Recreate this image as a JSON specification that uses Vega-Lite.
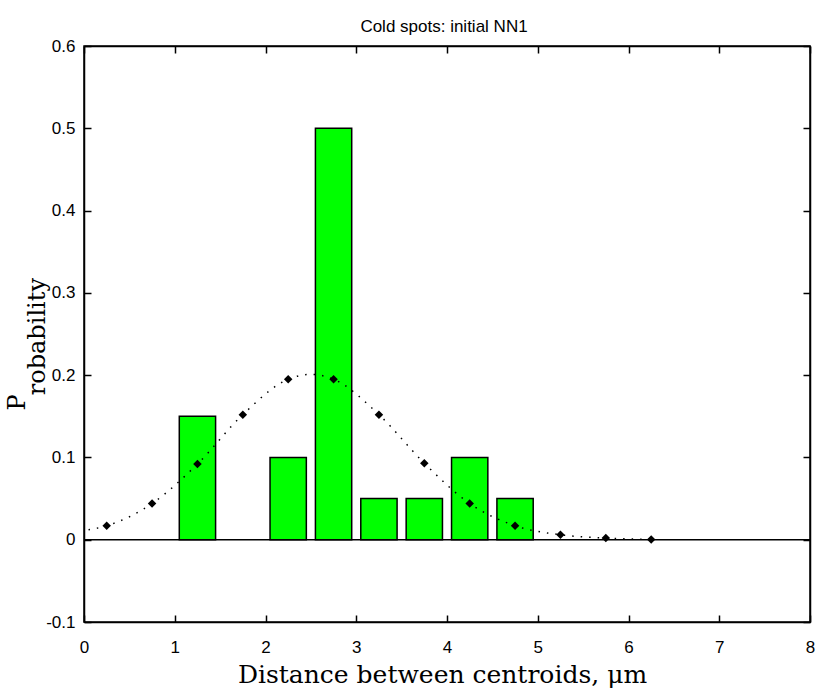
{
  "$schema": "https://vega.github.io/schema/vega-lite/v6.json",
  "width": 726,
  "height": 576,
  "autosize": {"type": "none"},
  "padding": {"left": 84, "top": 46, "right": 6, "bottom": 68},
  "background": "white",
  "title": {"text": "Cold spots: initial NN1", "font": "Liberation Sans", "fontSize": 17, "fontWeight": "normal", "color": "black", "offset": 1, "anchor": "middle", "dx": -3},
  "datasets": {
    "bars": [
      {"lo": 1.05, "hi": 1.45, "p": 0.15},
      {"lo": 2.05, "hi": 2.45, "p": 0.1},
      {"lo": 2.55, "hi": 2.95, "p": 0.5},
      {"lo": 3.05, "hi": 3.45, "p": 0.05},
      {"lo": 3.55, "hi": 3.95, "p": 0.05},
      {"lo": 4.05, "hi": 4.45, "p": 0.1},
      {"lo": 4.55, "hi": 4.95, "p": 0.05}
    ],
    "fit": [
      {"d": 0.05, "p": 0.012, "m": 0},
      {"d": 0.25, "p": 0.017, "m": 1},
      {"d": 0.75, "p": 0.044, "m": 1},
      {"d": 1.25, "p": 0.092, "m": 1},
      {"d": 1.75, "p": 0.152, "m": 1},
      {"d": 2.25, "p": 0.195, "m": 1},
      {"d": 2.5, "p": 0.201, "m": 0},
      {"d": 2.75, "p": 0.195, "m": 1},
      {"d": 3.25, "p": 0.152, "m": 1},
      {"d": 3.75, "p": 0.093, "m": 1},
      {"d": 4.25, "p": 0.044, "m": 1},
      {"d": 4.75, "p": 0.017, "m": 1},
      {"d": 5.25, "p": 0.006, "m": 1},
      {"d": 5.75, "p": 0.002, "m": 1},
      {"d": 6.25, "p": 0.0004, "m": 1}
    ],
    "zero": [{"p": 0}]
  },
  "layer": [
    {
      "data": {"name": "bars"},
      "mark": {"type": "bar", "fill": "#00FF00", "stroke": "black", "strokeWidth": 1.5},
      "encoding": {
        "x": {"field": "lo", "type": "quantitative",
              "scale": {"domain": [0, 8], "nice": false, "zero": false},
              "axis": {"orient": "bottom", "values": [0,1,2,3,4,5,6,7,8], "format": "d", "labelPadding": 24,
                       "title": "Distance between centroids, μm", "titleFont": "DejaVu Serif", "titleFontSize": 25, "titleFontWeight": "normal", "titleColor": "black", "titleBaseline": "alphabetic", "titleY": 60, "titleX": 358}},
        "x2": {"field": "hi"},
        "y": {"field": "p", "type": "quantitative",
              "scale": {"domain": [-0.1, 0.6], "nice": false, "zero": false},
              "axis": {"orient": "left", "values": [-0.1,0,0.1,0.2,0.3,0.4,0.5,0.6], "labelPadding": 16,
                       "labelExpr": "datum.value == 0 ? '0' : (datum.value < 0 ? '-' + format(-datum.value, '.1f') : format(datum.value, '.1f'))",
                       "title": ["P", "\u200b\u00a0\u00a0robability"], "titleFont": "DejaVu Serif", "titleFontSize": 24, "titleFontWeight": "normal", "titleColor": "black",
                       "titleAngle": -90, "titleAlign": "left", "titleBaseline": "alphabetic", "titleLineHeight": 20, "titleX": -60, "titleY": 364}},
        "y2": {"datum": 0}
      }
    },
    {
      "data": {"name": "zero"},
      "mark": {"type": "rule", "color": "black", "strokeWidth": 1.5},
      "encoding": {"y": {"field": "p", "type": "quantitative", "axis": null}}
    },
    {
      "data": {"name": "fit"},
      "mark": {"type": "line", "color": "black", "strokeWidth": 1.5, "strokeDash": [1.5, 7], "interpolate": "monotone"},
      "encoding": {
        "x": {"field": "d", "type": "quantitative",
              "axis": {"orient": "top", "values": [0,1,2,3,4,5,6,7,8], "labels": false, "title": null}},
        "y": {"field": "p", "type": "quantitative",
              "axis": {"orient": "right", "values": [-0.1,0,0.1,0.2,0.3,0.4,0.5,0.6], "labels": false, "title": null}}
      }
    },
    {
      "data": {"name": "fit"},
      "transform": [{"filter": "datum.m == 1"}],
      "mark": {"type": "point", "shape": "diamond", "filled": true, "color": "black", "size": 72, "opacity": 1},
      "encoding": {
        "x": {"field": "d", "type": "quantitative", "axis": null},
        "y": {"field": "p", "type": "quantitative", "axis": null}
      }
    }
  ],
  "resolve": {"axis": {"x": "independent", "y": "independent"}},
  "config": {
    "view": {"stroke": "black", "strokeWidth": 1.5},
    "axis": {
      "grid": false,
      "domainColor": "black", "domainWidth": 1.5,
      "tickColor": "black", "tickWidth": 1.5, "tickSize": -7,
      "labelFont": "Liberation Sans", "labelFontSize": 17, "labelColor": "black",
      "labelFlush": false, "labelOverlap": false
    }
  }
}
